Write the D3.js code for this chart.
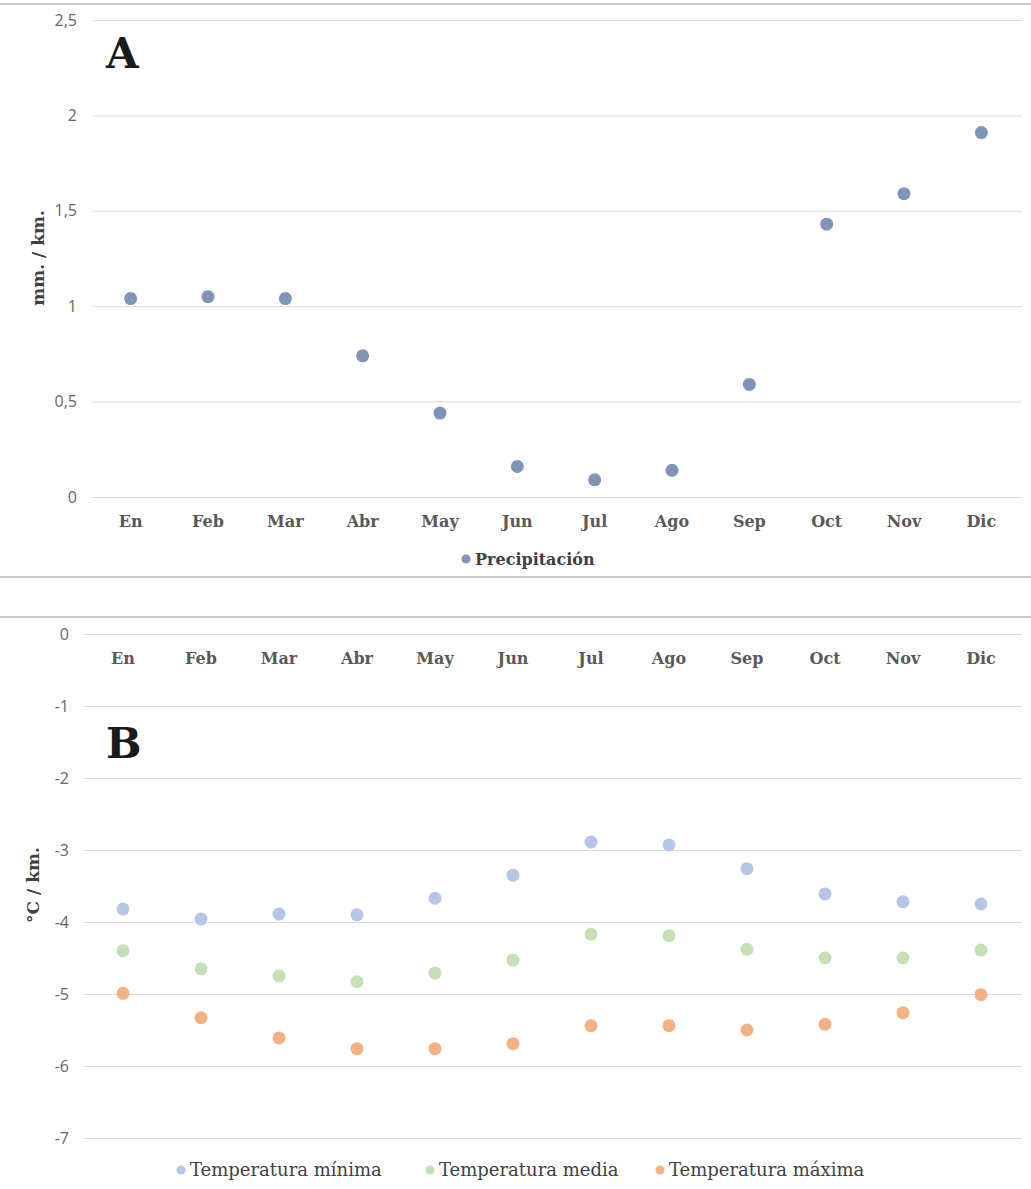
<!DOCTYPE html>
<html>
<head>
<meta charset="utf-8">
<script src="https://cdn.jsdelivr.net/npm/d3@7"></script>
<style>
  body { margin: 0; background: #fff; }
  #chart svg { display: block; }
</style>
</head>
<body>
<div id="chart"></div>
<script>
let months = ["En", "Feb", "Mar", "Abr", "May", "Jun", "Jul", "Ago", "Sep", "Oct", "Nov", "Dic"];
let precipitacion = [1.04, 1.05, 1.04, 0.74, 0.44, 0.16, 0.09, 0.14, 0.59, 1.43, 1.59, 1.91];
let tempMin = [-3.82, -3.96, -3.89, -3.90, -3.67, -3.35, -2.89, -2.93, -3.26, -3.61, -3.72, -3.75];
let tempMedia = [-4.40, -4.65, -4.75, -4.83, -4.71, -4.53, -4.17, -4.19, -4.38, -4.50, -4.50, -4.39];
let tempMax = [-4.99, -5.33, -5.61, -5.76, -5.76, -5.69, -5.44, -5.44, -5.50, -5.42, -5.26, -5.01];
let ticksA = [0, 0.5, 1, 1.5, 2, 2.5];
let ticksB = [0, -1, -2, -3, -4, -5, -6, -7];
let seriesB = [
    {name: "Temperatura mínima", values: tempMin, color: "#b4c7e7"},
    {name: "Temperatura media", values: tempMedia, color: "#c5e0b4"},
    {name: "Temperatura máxima", values: tempMax, color: "#f4b183"}
];

let dim = {'width': 1031, 'height': 1189};
let svg = d3.select('#chart').append('svg').attr('width', dim.width).attr('height', dim.height);

const tickFont = "'Open Sans', sans-serif";
const labelFont = "'DejaVu Serif', serif";
const fmt = d => String(d).replace('.', ',');

// separators
[4, 577, 617].forEach(y => {
    svg.append('line').attr('x1', 0).attr('x2', dim.width).attr('y1', y).attr('y2', y)
        .attr('stroke', '#c9c9c9').attr('stroke-width', 2);
});

function yAxis(g, scale, ticks, x0, x1) {
    g.attr('transform', `translate(${x0},0)`)
        .call(d3.axisLeft(scale).tickValues(ticks).tickFormat(fmt).tickSize(-(x1 - x0)).tickPadding(15))
        .call(g => g.select('.domain').remove())
        .call(g => g.selectAll('.tick line').attr('stroke', '#dcdcdc'))
        .call(g => g.selectAll('.tick text').attr('fill', '#666')
            .style('font-family', tickFont).style('font-size', '16px'));
}

function monthAxis(g, scale, y) {
    g.attr('transform', `translate(0,${y})`)
        .call(d3.axisBottom(scale).tickSize(0).tickPadding(0))
        .call(g => g.select('.domain').remove())
        .call(g => g.selectAll('.tick text').attr('fill', '#595959').attr('dy', '0.35em')
            .style('font-family', labelFont).style('font-weight', 'bold').style('font-size', '16px'));
}

// ---------- chart A ----------
let xA = d3.scaleBand().domain(months).range([92, 1020]);
let yA = d3.scaleLinear().domain([0, 2.5]).range([497, 20]);

svg.append('g').call(yAxis, yA, ticksA, 92, 1022);
svg.append('g').call(monthAxis, xA, 521);

svg.append('g').selectAll('circle')
    .data(precipitacion)
    .join('circle')
    .attr('cx', (d, i) => xA(months[i]) + xA.bandwidth() / 2)
    .attr('cy', d => yA(d))
    .attr('r', 6.5)
    .attr('fill', '#7f95b7');

svg.append('text').attr('x', 106).attr('y', 68).text('A')
    .attr('fill', '#1a1a1a').style('font-family', labelFont).style('font-weight', 'bold').style('font-size', '42px');

svg.append('text').attr('transform', `translate(44,258) rotate(-90)`).attr('text-anchor', 'middle')
    .text('mm. / km.').attr('fill', '#404040')
    .style('font-family', labelFont).style('font-weight', 'bold').style('font-size', '17px');

let legA = svg.append('g').attr('transform', 'translate(466,559)');
legA.append('circle').attr('r', 4.5).attr('fill', '#7f95b7');
legA.append('text').attr('x', 9).attr('dy', '0.35em').text('Precipitación').attr('fill', '#404040')
    .style('font-family', labelFont).style('font-weight', 'bold').style('font-size', '16px');

// ---------- chart B ----------
let xB = d3.scaleBand().domain(months).range([84, 1020]);
let yB = d3.scaleLinear().domain([-7, 0]).range([1138, 634]);

svg.append('g').call(yAxis, yB, ticksB, 84, 1022);
svg.append('g').call(monthAxis, xB, 658);

seriesB.forEach(s => {
    svg.append('g').selectAll('circle')
        .data(s.values)
        .join('circle')
        .attr('cx', (d, i) => xB(months[i]) + xB.bandwidth() / 2)
        .attr('cy', d => yB(d))
        .attr('r', 6.5)
        .attr('fill', s.color);
});

svg.append('text').attr('x', 106).attr('y', 758).text('B')
    .attr('fill', '#1a1a1a').style('font-family', labelFont).style('font-weight', 'bold').style('font-size', '42px');

svg.append('text').attr('transform', `translate(39,885) rotate(-90)`).attr('text-anchor', 'middle')
    .text('°C / km.').attr('fill', '#404040')
    .style('font-family', labelFont).style('font-weight', 'bold').style('font-size', '17px');

let legX = [181, 430, 660];
seriesB.forEach((s, i) => {
    let g = svg.append('g').attr('transform', `translate(${legX[i]},1170)`);
    g.append('circle').attr('r', 4.5).attr('fill', s.color);
    g.append('text').attr('x', 9).attr('dy', '0.35em').text(s.name).attr('fill', '#404040')
        .style('font-family', labelFont).style('font-size', '18px');
});
</script>
</body>
</html>
